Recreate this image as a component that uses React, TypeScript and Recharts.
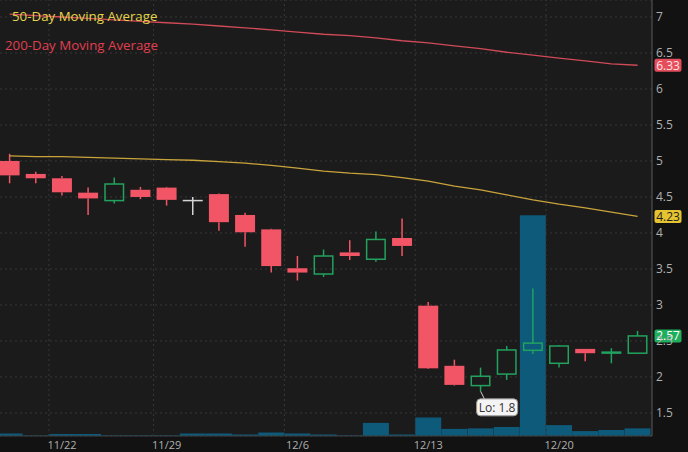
import { ComposedChart, Bar, Line, XAxis, YAxis, CartesianGrid, ReferenceLine, ReferenceDot } from 'recharts'

const DATES = ['11/18', '11/19', '11/22', '11/23', '11/24', '11/26', '11/29', '11/30', '12/1', '12/2', '12/3', '12/6', '12/7',
  '12/8', '12/9', '12/10', '12/13', '12/14', '12/15', '12/16', '12/17', '12/20', '12/21', '12/22', '12/23']
const OPEN = [5.0, 4.82, 4.76, 4.56, 4.45, 4.6, 4.63, 4.45, 4.54, 4.25, 4.05, 3.51, 3.43, 3.73, 3.635, 3.93, 2.99, 2.155, 1.88, 2.04, 2.37, 2.19, 2.39, 2.335, 2.33]
const HIGH = [5.1, 4.85, 4.79, 4.63, 4.77, 4.64, 4.64, 4.5, 4.55, 4.28, 4.06, 3.68, 3.77, 3.9, 4.02, 4.2, 3.04, 2.24, 2.13, 2.43, 3.23, 2.44, 2.39, 2.4, 2.64]
const LOW = [4.69, 4.69, 4.52, 4.25, 4.41, 4.47, 4.38, 4.25, 4.03, 3.81, 3.45, 3.34, 3.39, 3.625, 3.6, 3.68, 2.11, 1.88, 1.8, 1.96, 2.32, 2.13, 2.22, 2.19, 2.33]
const CLOSE = [4.8, 4.76, 4.565, 4.48, 4.68, 4.5, 4.46, 4.45, 4.15, 4.01, 3.54, 3.45, 3.68, 3.68, 3.91, 3.82, 2.12, 1.89, 2.01, 2.375, 2.47, 2.43, 2.33, 2.345, 2.57]
// volume in millions
const VOLUME = [0.46, 0.1, 0.37, 0.37, 0.1, 0.1, 0.1, 0.46, 0.46, 0.28, 0.64, 0.46, 0.28, 0.1, 2.4, 0.28, 3.4, 1.3, 1.4, 1.65, 40.5, 2.0, 0.9, 1.1, 1.4]
const MA50 = [5.07, 5.06, 5.06, 5.05, 5.04, 5.03, 5.02, 5.01, 4.99, 4.97, 4.94, 4.9, 4.86, 4.83, 4.81, 4.77, 4.72, 4.65, 4.6, 4.53, 4.46, 4.4, 4.35, 4.29, 4.23]
const MA200 = [7.04, 7.02, 7.0, 6.98, 6.96, 6.94, 6.92, 6.9, 6.875, 6.85, 6.82, 6.79, 6.76, 6.74, 6.71, 6.67, 6.64, 6.6, 6.56, 6.51, 6.47, 6.43, 6.39, 6.35, 6.33]
const TICK_DATES = ['11/22', '11/29', '12/6', '12/13', '12/20']
const PRICE_TICKS = [1.5, 2, 2.5, 3, 3.5, 4, 4.5, 5, 5.5, 6, 6.5, 7]

const RED = '#f25566'
const GREEN = '#22a25e'
const DOJI = '#d4d4d4'
const VOL_COLOR = '#0e5a7b'
const MA50_COLOR = '#c9a43c'
const MA200_COLOR = '#d04a58'
const GRID = '#383838'

const rows = DATES.map((date, i) => ({
  i, date, open: OPEN[i], high: HIGH[i], low: LOW[i], close: CLOSE[i],
  volume: VOLUME[i], ma50: MA50[i], ma200: MA200[i],
}))
const tickIdx = TICK_DATES.map(d => DATES.indexOf(d))
const last = rows.length - 1
const lowVal = Math.min(...LOW)
const lowIdx = LOW.indexOf(lowVal)

const LEGEND = [
  { name: '50-Day Moving Average', color: '#e4d54c', left: 12, top: 6 },
  { name: '200-Day Moving Average', color: '#e13f50', left: 5, top: 35 },
]

function Candle(props: any) {
  const { x, y, width, height, payload } = props
  const { open, close, high, low } = payload
  const top = Math.min(y, y + height)
  const h = Math.abs(height)
  const py = (v: number) => top + ((high - v) / (high - low)) * h
  const cx = x + width / 2
  const color = close === open ? DOJI : close > open ? GREEN : RED
  const bTop = py(Math.max(open, close))
  const bBot = py(Math.min(open, close))
  const bw = 20
  if (close === open) {
    return (
      <g>
        <line x1={cx} x2={cx} y1={top} y2={top + h} stroke={color} strokeWidth={1.5} />
        <line x1={cx - bw / 2} x2={cx + bw / 2} y1={bTop} y2={bTop} stroke={color} strokeWidth={1.5} />
      </g>
    )
  }
  const up = close > open
  return (
    <g>
      <line x1={cx} x2={cx} y1={top} y2={bTop} stroke={color} strokeWidth={1.5} />
      <line x1={cx} x2={cx} y1={bBot} y2={top + h} stroke={color} strokeWidth={1.5} />
      {up ? (
        <rect x={cx - bw / 2 + 0.75} y={bTop} width={bw - 1.5} height={Math.max(bBot - bTop, 1)} fill="none" stroke={color} strokeWidth={1.5} />
      ) : (
        <rect x={cx - bw / 2} y={bTop} width={bw} height={Math.max(bBot - bTop, 1.5)} fill={color} />
      )}
    </g>
  )
}

function PriceTag(props: any) {
  const { viewBox, text, bg, fg } = props
  const x = viewBox.x + viewBox.width + 2.5
  const y = viewBox.y
  return (
    <g>
      <rect x={x} y={y - 6.5} width={27} height={13} rx={2} fill={bg} />
      <text x={x + 13.5} y={y} dy="0.36em" textAnchor="middle" fontSize={12} fill={fg}>{text}</text>
    </g>
  )
}

function LoTag(props: any) {
  const { cx, cy } = props
  return (
    <g>
      <line x1={cx} y1={cy} x2={cx + 4} y2={cy + 8} stroke="#cfcfcf" strokeWidth={1} />
      <rect x={cx - 4} y={cy + 7.5} width={41} height={17} rx={4} fill="#f4f4f4" stroke="#9a9a9a" />
      <text x={cx + 16.5} y={cy + 16} dy="0.36em" textAnchor="middle" fontSize={12} fill="#333">{`Lo: ${lowVal}`}</text>
    </g>
  )
}

export default function App() {
  return (
    <div style={{ position: 'absolute', left: 0, top: 0, width: 688, height: 452, background: '#121212', fontFamily: '"Open Sans", sans-serif' }}>
      <ComposedChart width={688} height={452} data={rows} margin={{ top: 0, right: 0, bottom: 0, left: 0 }}>
        <CartesianGrid fill="#1b1b1b" stroke={GRID} strokeDasharray="2 3" vertical={false} />
        <XAxis dataKey="i" type="number" domain={[-0.37, 24.55]} allowDataOverflow ticks={tickIdx} interval={0}
          tickFormatter={(v: number) => DATES[v]} height={16} tickSize={0} tickMargin={5} tickLine={false}
          axisLine={{ stroke: '#3c3c3c' }} tick={{ fill: '#b0b0b0', fontSize: 11 }} />
        <XAxis xAxisId="vx" dataKey="i" type="number" domain={[-0.37, 24.55]} allowDataOverflow hide />
        <YAxis orientation="right" type="number" domain={[1.18, 7.236]} allowDataOverflow ticks={PRICE_TICKS} interval={0}
          width={36} tickSize={0} tickMargin={4} tickLine={false} axisLine={{ stroke: '#5a5a5a' }}
          tick={{ fill: '#b0b0b0', fontSize: 12 }} />
        <YAxis yAxisId="vol" type="number" domain={[0, 80]} hide />
        {tickIdx.map(t => (
          <ReferenceLine key={t} x={t - 0.5} stroke={GRID} strokeDasharray="2 3" />
        ))}
        <Bar xAxisId="vx" yAxisId="vol" dataKey="volume" fill={VOL_COLOR} barSize={26} isAnimationActive={false} />
        <Bar dataKey={(d: any) => [d.low, d.high]} barSize={26} shape={(p: any) => <Candle {...p} />} isAnimationActive={false} />
        <Line dataKey="ma50" stroke={MA50_COLOR} strokeWidth={1.3} dot={false} activeDot={false} isAnimationActive={false} />
        <Line dataKey="ma200" stroke={MA200_COLOR} strokeWidth={1.3} dot={false} activeDot={false} isAnimationActive={false} />
        <ReferenceLine y={MA200[last]} stroke="none" label={<PriceTag text={MA200[last].toFixed(2)} bg="#e54d5b" fg="#ffe3e3" />} />
        <ReferenceLine y={MA50[last]} stroke="none" label={<PriceTag text={MA50[last].toFixed(2)} bg="#e6c331" fg="#222" />} />
        <ReferenceLine y={CLOSE[last]} stroke="none" label={<PriceTag text={CLOSE[last].toFixed(2)} bg="#1fae5c" fg="#fff" />} />
        <ReferenceDot x={lowIdx} y={lowVal} shape={(p: any) => <LoTag {...p} />} />
      </ComposedChart>
      {LEGEND.map(l => (
        <div key={l.name} style={{ position: 'absolute', left: l.left, top: l.top, color: l.color, fontSize: 13.3, lineHeight: '20px', whiteSpace: 'nowrap' }}>
          {l.name}
        </div>
      ))}
    </div>
  )
}
